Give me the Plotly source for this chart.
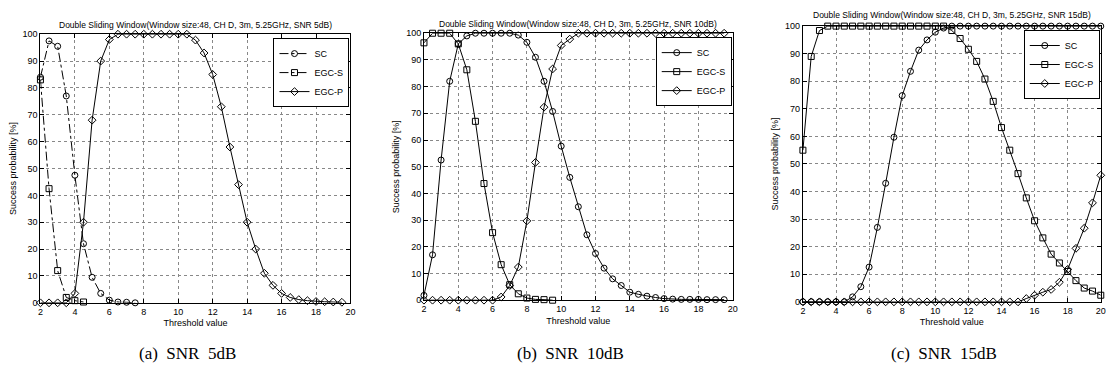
import plotly.graph_objects as go

# Threshold values (common grid, step 0.5)
THRESH = [2, 2.5, 3, 3.5, 4, 4.5, 5, 5.5, 6, 6.5, 7, 7.5, 8, 8.5, 9, 9.5, 10, 10.5,
          11, 11.5, 12, 12.5, 13, 13.5, 14, 14.5, 15, 15.5, 16, 16.5, 17, 17.5,
          18, 18.5, 19, 19.5, 20]

# ---- (a) SNR 5dB ----
a_sc = [84, 97.5, 95.5, 77, 47.5, 22, 9.5, 3.5, 1, 0.3, 0.2, 0]
a_egcs = [83, 42.5, 12, 2, 0.8, 0.3]
a_egcp = [0, 0, 0, 0, 3.5, 30, 68, 90, 98,
          100, 100, 100, 100, 100, 100, 100, 100, 100,
          97.8, 93, 85, 73, 58, 44, 30, 20, 11, 6.5, 3.5, 2, 1.2, 0.8, 0.5, 0.4, 0.3, 0.2]

# ---- (b) SNR 10dB ----
b_sc = [1.8, 17, 52.5, 82, 96, 99, 100, 100, 100, 100, 100, 99.3, 96.6, 91, 82, 70.7,
        57.7, 46, 35, 24.5, 17.5, 12, 8, 5.5, 3, 2.2, 1.5, 1, 0.6, 0.4, 0.3, 0.3, 0.3,
        0.2, 0.2, 0.2]
b_egcs = [96.4, 100, 100, 100, 96, 86.3, 67, 43.7, 25.3, 13.3, 5.8, 2.4, 0.8, 0.3, 0.2, 0]
b_egcp = [0, 0, 0, 0, 0, 0, 0, 0, 0,
          1.2, 5.5, 12.4, 29.7, 51.6, 72.3, 86.6, 95.4, 97.8,
          100, 100, 100, 100, 100, 100, 100, 100, 100, 100, 100, 100, 100, 100, 100,
          100, 100, 100]

# ---- (c) SNR 15dB ----
c_sc = [0, 0, 0, 0, 0, 0,
        1.8, 5.5, 12.6, 27, 43, 59.7, 74.8, 83.6, 91.3, 95, 97.8, 99.3,
        100, 100, 100, 100, 100, 100, 100, 100, 100, 100, 100, 100, 100, 100, 100,
        100, 100, 100, 100]
c_egcs = [55, 89, 98.4,
          100, 100, 100, 100, 100, 100, 100, 100, 100, 100, 100, 100, 100, 100, 100,
          98.4, 95.5, 91.6, 87.2, 80.8, 72.7, 63.2, 55, 46.5, 37.7, 29.4, 23.2, 17.3,
          14.1, 11, 7.7, 5, 3.9, 2.4]
c_egcp = [0] * 27 + [1.2, 2.4, 3.5, 4.5, 7.1, 11.8, 19.4, 26.7, 35.9, 45.9]

TITLES = [
    "Double Sliding Window(Window size:48, CH D, 3m, 5.25GHz, SNR 5dB)",
    "Double Sliding Window(Window size:48, CH D, 3m, 5.25GHz, SNR 10dB)",
    "Double Sliding Window(Window size:48, CH D, 3m, 5.25GHz, SNR 15dB)",
]
CAPTIONS = ["(a)  SNR  5dB", "(b)  SNR  10dB", "(c)  SNR  15dB"]
SERIES_NAMES = ["SC", "EGC-S", "EGC-P"]
X_TICKS = [2, 4, 6, 8, 10, 12, 14, 16, 18, 20]
Y_TICKS = [0, 10, 20, 30, 40, 50, 60, 70, 80, 90, 100]

W, H = 1115, 374
panels = [
    dict(series=[a_sc, a_egcs, a_egcp], dashes=["dashdot", "dashdot", "solid"],
         px=(37.7, 350), py=(30, 306), title_dy=0),
    dict(series=[b_sc, b_egcs, b_egcp], dashes=["solid", "solid", "solid"],
         px=(424, 735), py=(29, 303.3), title_dy=0),
    dict(series=[c_sc, c_egcs, c_egcp], dashes=["solid", "solid", "solid"],
         px=(805.7, 1105.7), py=(21.7, 305), title_dy=2),
]
symbols = ["circle-open", "square-open", "diamond-open"]

fig = go.Figure()
layout = dict(width=W, height=H, margin=dict(l=0, r=0, t=0, b=0),
              plot_bgcolor="white", paper_bgcolor="white",
              font=dict(family="Liberation Sans, Arial", size=9, color="black"),
              annotations=[])

FONT = "Liberation Sans, Arial"
for i, p in enumerate(panels):
    k = "" if i == 0 else str(i + 1)
    legname = "legend" if i == 0 else f"legend{i + 1}"
    for j, (vals, name) in enumerate(zip(p["series"], SERIES_NAMES)):
        fig.add_trace(go.Scatter(
            x=THRESH[:len(vals)], y=vals, name=name, mode="lines+markers",
            xaxis="x" + k, yaxis="y" + k, legend=legname, cliponaxis=False,
            line=dict(color="black", width=1, dash=p["dashes"][j]),
            marker=dict(symbol=symbols[j], size=6, color="black",
                        line=dict(width=1, color="black")),
        ))
    x0, x1 = p["px"][0] / W, p["px"][1] / W
    y0, y1 = 1 - p["py"][1] / H, 1 - p["py"][0] / H
    axcommon = dict(showline=True, linecolor="black", linewidth=1, mirror="ticks",
                    ticks="inside", ticklen=4, tickcolor="black",
                    showgrid=True, gridcolor="#888", griddash="dot", gridwidth=0.6,
                    zeroline=False, tickfont=dict(size=9, family=FONT))
    layout["xaxis" + k] = dict(axcommon, domain=[x0, x1], range=[2, 20],
                               tickvals=X_TICKS, anchor="y" + k,
                               title=dict(text="Threshold value", font=dict(size=9, family=FONT),
                                          standoff=4))
    layout["yaxis" + k] = dict(axcommon, domain=[y0, y1], range=[0, 100],
                               tickvals=Y_TICKS, anchor="x" + k,
                               title=dict(text="Success probability [%]", font=dict(size=9, family=FONT),
                                          standoff=4))
    layout[legname] = dict(x=x1 - 1 / W, y=y1 - 4 / H, xanchor="right", yanchor="top",
                           bordercolor="black", borderwidth=1, bgcolor="white",
                           font=dict(size=9, family=FONT), itemwidth=30,
                           tracegroupgap=0)
    layout["annotations"].append(dict(
        text=TITLES[i], xref="paper", yref="paper", x=(x0 + x1) / 2, y=y1,
        xanchor="center", yanchor="bottom", yshift=2 + p["title_dy"], showarrow=False,
        font=dict(size=8.5, family=FONT)))
    layout["annotations"].append(dict(
        text=CAPTIONS[i], xref="paper", yref="paper", x=(x0 + x1) / 2 - 8 / W,
        y=1 - 358 / H, xanchor="center", yanchor="middle", showarrow=False,
        font=dict(size=17, family="Liberation Serif, Times New Roman")))

fig.update_layout(**layout)
fig.write_html("out.html", config={"displayModeBar": False},
               post_script="document.body.style.margin='0';document.body.style.overflow='hidden';")
